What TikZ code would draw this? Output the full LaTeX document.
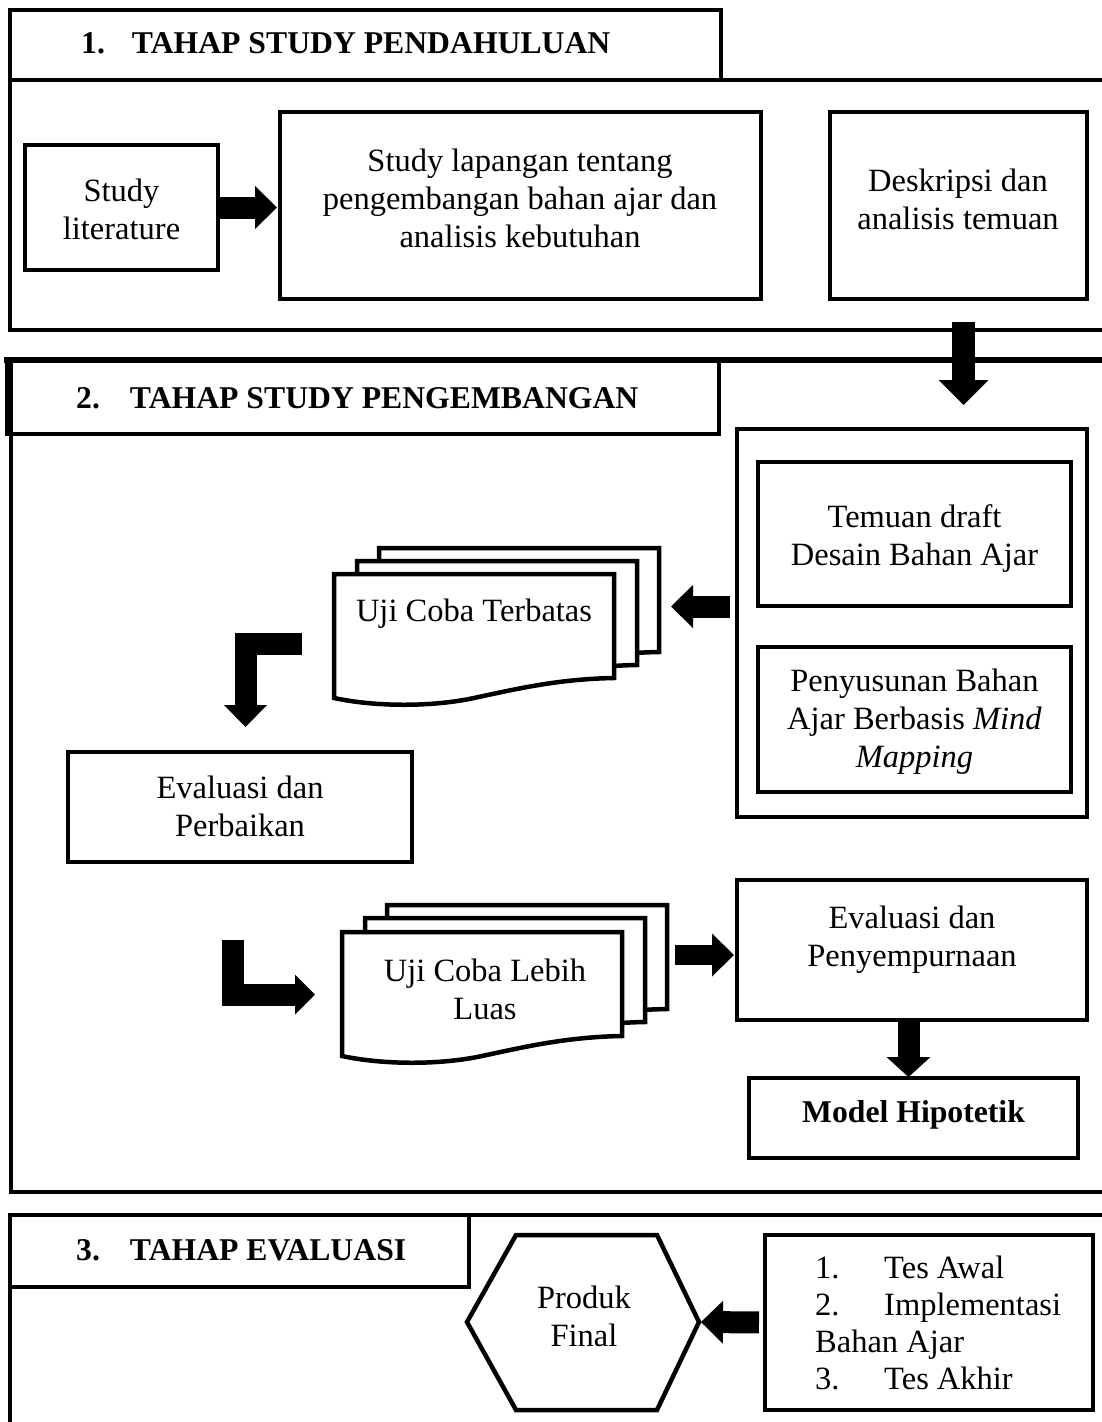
\documentclass[tikz,border=0pt]{standalone}
\usepackage{fontspec}
\setmainfont{Liberation Serif}
\usetikzlibrary{arrows.meta}
\tikzset{
  bx/.style={draw, line width=4.5pt, inner sep=0pt, outer sep=0pt},
  secline/.style={line width=4.5pt},
  docline/.style={line width=4.5pt, line join=miter},
  txt/.style={font=\fontsize{32.5}{38}\selectfont, align=center, inner sep=0pt},
  hdrtxt/.style={font=\fontsize{31.7}{38}\selectfont\bfseries, inner sep=0pt},
  bigarrow/.style={line width=22pt, -{Triangle[length=22pt,width=43pt,line width=0pt]}},
  multidoc/.pic={\filldraw[docline,fill=white] (0,0) -- (280,0) -- (280,104)
     .. controls (224,105) and (182,115) .. (140,124)
     .. controls (98,133) and (42,133) .. (0,124) -- cycle;}
}
\begin{document}
\begin{tikzpicture}[x=1pt,y=-1pt]
\useasboundingbox (0,0) rectangle (1102,1422);

% ---------- Section 1 ----------
\draw[secline] (1110,80) -- (10,80) -- (10,330) -- (1110,330);
\node[bx, minimum width=711pt, minimum height=70pt] (h1box) at (365.5,45) {};
\node[hdrtxt, anchor=base west] (h1) at (81,53) {1.\hspace{27pt}TAHAP STUDY PENDAHULUAN};

\node[bx, minimum width=193pt, minimum height=125pt] (lit) at (121.5,207.5) {};
\node[txt] (litt) at (121.5,209) {Study\\literature};
\node[bx, minimum width=481pt, minimum height=187pt] (lap) at (520.5,205.5) {};
\node[txt] (lapt) at (520,198) {Study lapangan tentang\\pengembangan bahan ajar dan\\analisis kebutuhan};
\node[bx, minimum width=257pt, minimum height=187pt] (desk) at (958.5,205.5) {};
\node[txt] (deskt) at (958,199) {Deskripsi dan\\analisis temuan};

% ---------- Section 2 ----------
\draw[secline] (11,359) -- (11,1192) -- (1110,1192);
\draw[secline, line width=6pt] (4,360) -- (1110,360);
\node[bx, minimum width=712pt, minimum height=74pt] (h2box) at (363,397) {};
\node[hdrtxt, anchor=base west] (h2) at (76,408) {2.\hspace{30pt}TAHAP STUDY PENGEMBANGAN};

\node[bx, minimum width=350pt, minimum height=388pt] (cont) at (912,623) {};
\node[bx, minimum width=313pt, minimum height=144pt] (tem) at (914.5,534) {};
\node[txt] (temt) at (914.5,539) {Temuan draft\\Desain Bahan Ajar};
\node[bx, minimum width=313pt, minimum height=145pt] (pen) at (914.5,719.5) {};
\node[txt] (pent) at (914.5,722) {Penyusunan Bahan\\Ajar Berbasis \textit{Mind}\\\textit{Mapping}};

\pic at (379,548) {multidoc};
\pic at (357,561) {multidoc};
\pic at (334,574) {multidoc};
\node[txt, anchor=base] (uct) at (474,621) {Uji Coba Terbatas};

\node[bx, minimum width=344pt, minimum height=110pt] (evp) at (240,807) {};
\node[txt] (evpt) at (240,806) {Evaluasi dan\\Perbaikan};

\pic at (387,905) {multidoc};
\pic at (365,918) {multidoc};
\pic at (342,932) {multidoc};
\node[txt] (ucl) at (485,989) {Uji Coba Lebih\\Luas};

\node[bx, minimum width=350pt, minimum height=140pt] (evs) at (912,950) {};
\node[txt] (evst) at (912,940) {Evaluasi dan\\Penyempurnaan};
\node[bx, minimum width=329pt, minimum height=80pt] (mod) at (913.5,1118) {};
\node[hdrtxt, anchor=base] (modt) at (913.5,1122) {Model Hipotetik};

% ---------- Section 3 ----------
\draw[secline] (1110,1215) -- (10,1215) -- (10,1430);
\node[bx, minimum width=459pt, minimum height=72pt] (h3box) at (239.5,1251) {};
\node[hdrtxt, anchor=base west] (h3) at (76,1260) {3.\hspace{30pt}TAHAP EVALUASI};

\draw[docline] (516,1235) -- (657,1235) -- (699,1322) -- (657,1410) -- (516,1410) -- (467,1322) -- cycle;
\coordinate (hexR) at (699,1322);
\node[txt] (prod) at (584,1316) {Produk\\Final};
\node[bx, minimum width=328pt, minimum height=175pt] (list) at (929,1322.5) {};
\node[txt, align=left, font=\fontsize{32.5}{37}\selectfont, anchor=north west] (listt) at (815,1256)
  {\makebox[69pt][l]{1.}Tes Awal\\\makebox[69pt][l]{2.}Implementasi\\Bahan Ajar\\\makebox[69pt][l]{3.}Tes Akhir};

% ---------- Arrows ----------
\draw[bigarrow, shorten >=3pt] (lit.east) -- (lit.east -| lap.west);
\coordinate (d1s) at (963.5,322);
\coordinate (d1e) at (963.5,405);
\draw[bigarrow, line width=23pt, -{Triangle[length=25pt,width=50pt,line width=0pt]}] (d1s) -- (d1e);
\coordinate (t1e) at (671,606.5);
\draw[bigarrow, shorten <=7pt] (cont.west |- t1e) -- (t1e);
\coordinate (e1s) at (302,644);
\coordinate (e1e) at (245.5,727);
\draw[bigarrow] (e1s) -| (e1e);
\coordinate (e2s) at (232.5,940);
\coordinate (e2e) at (315,994.5);
\draw[bigarrow, -{Triangle[length=20pt,width=40pt,line width=0pt]}] (e2s) |- (e2e);
\coordinate (l1s) at (675,955);
\draw[bigarrow, line width=20pt, shorten >=3pt] (l1s) -- (l1s -| evs.west);
\coordinate (mx) at (908.5,0);
\draw[bigarrow, -{Triangle[length=20pt,width=44pt,line width=0pt]}, shorten >=1pt] (evs.south -| mx) -- (mod.north -| mx);
\draw[bigarrow, shorten <=6pt, shorten >=2pt] (list.west) -- (hexR);
\end{tikzpicture}
\end{document}
